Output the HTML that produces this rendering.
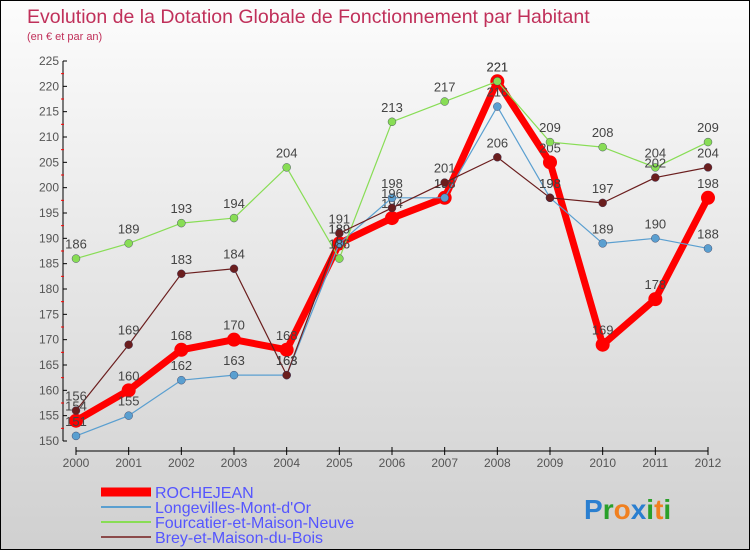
<!DOCTYPE html>
<html><head><meta charset="utf-8"><style>
html,body{margin:0;padding:0}
#c{width:748px;height:548px;border:1px solid #000;background:linear-gradient(#fcfcfc,#d0d0d0);position:relative;font-family:"Liberation Sans",sans-serif}
svg{position:absolute;left:0;top:0}
</style></head><body>
<div id="c">
<svg id="s" width="748" height="548">
<text x="26" y="22" font-size="19.5" fill="#c0305a">Evolution de la Dotation Globale de Fonctionnement par Habitant</text>
<text x="26" y="39" font-size="11" fill="#c0305a">(en € et par an)</text>
</svg>
</div>
<script>
const years=[2000,2001,2002,2003,2004,2005,2006,2007,2008,2009,2010,2011,2012];
const yTicks=[150,155,160,165,170,175,180,185,190,195,200,205,210,215,220,225];
const rochejean=[154,160,168,170,168,189,194,198,221,205,169,178,198];
const longevilles=[151,155,162,163,163,189,198,198,216,198,189,190,188];
const fourcatier=[186,189,193,194,204,186,213,217,221,209,208,204,209];
const brey=[156,169,183,184,163,191,196,201,206,198,197,202,204];
const seriesNames=["ROCHEJEAN","Longevilles-Mont-d'Or","Fourcatier-et-Maison-Neuve","Brey-et-Maison-du-Bois"];
const NS="http://www.w3.org/2000/svg";
const svg=document.getElementById('s');
const xS=i=>75+i*(707-75)/12;
const yS=v=>440-(v-150)*(380/75);
function mk(t,a,p){const e=document.createElementNS(NS,t);for(const k in a)e.setAttribute(k,a[k]);(p||svg).appendChild(e);return e;}
let ax=mk('line',{x1:62,y1:60,x2:62,y2:440,stroke:'#000','stroke-width':1});


yTicks.forEach(v=>{
  mk('line',{x1:62,y1:yS(v),x2:66,y2:yS(v),stroke:'#000'});
  if(v<225) mk('line',{x1:60,y1:yS(v+2.5),x2:63,y2:yS(v+2.5),stroke:'#f00'});
  const t=mk('text',{x:58,y:yS(v)+4,'font-size':12,'text-anchor':'end',fill:'#555'});
  t.textContent=v;
  
  
});
let xa=mk('line',{x1:75,y1:450,x2:707,y2:450,stroke:'#000'});


years.forEach((y,i)=>{
  mk('line',{x1:xS(i),y1:446,x2:xS(i),y2:454,stroke:'#000'});
  const t=mk('text',{x:xS(i),y:466,'font-size':12,'text-anchor':'middle',fill:'#555'});
  t.textContent=y;
  
  
});
const defs=[
 {d:rochejean,c:'#f00',w:7,r:7,n:'rochejean'},
 {d:longevilles,c:'#5a9fd0',w:1.2,r:4,n:'longevilles'},
 {d:fourcatier,c:'#88dd55',w:1.2,r:4,n:'fourcatier'},
 {d:brey,c:'#6b1e1e',w:1.2,r:4,n:'brey'}];
defs.forEach(s=>{
  const g=mk('g',{});
  
  
  const pl=mk('polyline',{points:s.d.map((v,i)=>xS(i)+','+yS(v)).join(' '),fill:'none',stroke:s.c,'stroke-width':s.w,'stroke-linejoin':'round'},g);
  
  
  s.d.forEach((v,i)=>{
    const c=mk('circle',{cx:xS(i),cy:yS(v),r:s.r,fill:s.c,stroke:s.w>2?'none':'#335',"stroke-width":0.4},g);
    
    
    const t=mk('text',{x:xS(i),y:yS(v)-10,'font-size':13,'text-anchor':'middle',fill:'#444'},g);
    t.textContent=v;
    
    
  });
});
const lc=['#f00','#5a9fd0','#88dd55','#8b4a4a'],lw=[9,2,2,2];
seriesNames.forEach((n,i)=>{
  const y=491+i*15;
  const g=mk('g',{});
  
  
  mk('line',{x1:100,y1:y,x2:150,y2:y,stroke:lc[i],'stroke-width':lw[i]},g);
  const t=mk('text',{x:154,y:y+6,'font-size':16,fill:'#5555ff'},g);
  t.textContent=n;
});
const lg=mk('text',{x:583,y:518,'font-size':28,'font-weight':'bold'});


const parts=[['P','#2a7fd0'],['r','#2aa02a'],['o','#f08020'],['x','#2a7fd0'],['i','#2aa02a'],['t','#f08020'],['i','#2aa02a']];
parts.forEach(p=>{const ts=mk('tspan',{fill:p[1]},lg);ts.textContent=p[0];});
</script>
</body></html>
